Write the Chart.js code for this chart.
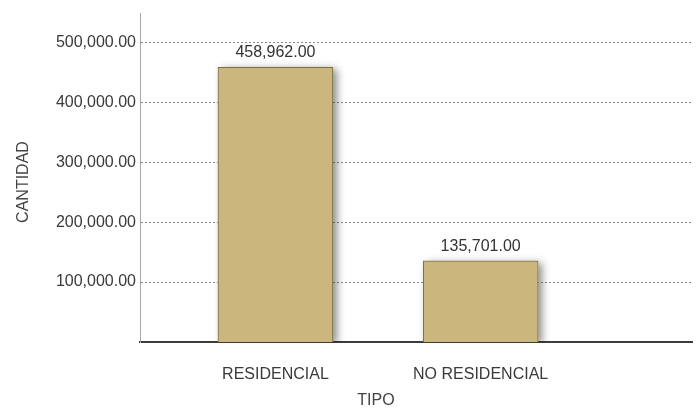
<!DOCTYPE html>
<html>
<head>
<meta charset="utf-8">
<script src="https://cdn.jsdelivr.net/npm/chart.js@4/dist/chart.umd.min.js"></script>
<style>
	html, body { margin: 0; padding: 0; background: #fff; }
	#wrap { width: 697px; height: 414px; position: relative; }
</style>
</head>
<body>
<div id="wrap"><canvas id="barChart"></canvas></div>
<script>
"use strict";

var categories = ["RESIDENCIAL", "NO RESIDENCIAL"];
var cantidad = [458962, 135701];
var yTicks = [100000, 200000, 300000, 400000, 500000];

function fmt(v) {
	return v.toLocaleString('en-US', { minimumFractionDigits: 2, maximumFractionDigits: 2 });
}

var FONT = "'Liberation Sans', Arial, sans-serif";
var BAR_COLOR = "#cbb77d";

// sombra de las barras (la barra de Chart.js recorta su propia sombra)
var shadowPlugin = {
	id: 'barShadow',
	beforeDatasetsDraw: function (chart) {
		var ctx = chart.ctx;
		var area = chart.chartArea;
		ctx.save();
		ctx.beginPath();
		ctx.rect(area.left, area.top, area.right - area.left, area.bottom - area.top);
		ctx.clip();
		ctx.shadowColor = 'rgba(0,0,0,0.45)';
		ctx.shadowBlur = 8;
		ctx.shadowOffsetX = 4;
		ctx.shadowOffsetY = 2;
		ctx.fillStyle = BAR_COLOR;
		chart.getDatasetMeta(0).data.forEach(function (bar) {
			var p = bar.getProps(['x', 'y', 'base', 'width'], true);
			ctx.fillRect(p.x - p.width / 2, p.y, p.width, p.base - p.y);
		});
		ctx.restore();
	}
};

// etiquetas de valor y titulos de ejes
var labelsPlugin = {
	id: 'valueLabels',
	afterDraw: function (chart) {
		var ctx = chart.ctx;
		ctx.save();
		ctx.font = "16px " + FONT;
		ctx.fillStyle = '#333';
		ctx.textAlign = 'center';
		ctx.textBaseline = 'bottom';
		chart.getDatasetMeta(0).data.forEach(function (bar, i) {
			ctx.fillText(fmt(cantidad[i]), bar.x, bar.y - 6);
		});

		ctx.fillStyle = '#444';
		ctx.textBaseline = 'middle';
		ctx.fillText('TIPO', 376, 401);

		ctx.translate(24, 182);
		ctx.rotate(-Math.PI / 2);
		ctx.fillText('CANTIDAD', 0, 0);
		ctx.restore();
	}
};

var ctx = document.getElementById("barChart");
var myChart = new Chart(ctx, {
	type: 'bar',
	data: {
		datasets: [{
			data: categories.map(function (c, i) { return { x: i, y: cantidad[i] }; }),
			backgroundColor: BAR_COLOR,
			borderColor: "#7d6f48",
			borderWidth: 1,
			borderSkipped: 'bottom',
			categoryPercentage: 1,
			barPercentage: 0.562
		}]
	},
	options: {
		responsive: true,
		maintainAspectRatio: false,
		animation: false,
		layout: { padding: { top: 13, right: 5, left: 0, bottom: 0 } },
		plugins: {
			legend: { display: false },
			tooltip: { enabled: false }
		},
		scales: {
			x: {
				type: 'linear',
				offset: false,
				min: -0.66,
				max: 2.03,
				grid: { display: false },
				border: { color: '#3c3c3c', width: 2 },
				afterBuildTicks: function (scale) {
					scale.ticks = categories.map(function (c, i) { return { value: i }; });
				},
				afterFit: function (scale) { scale.height = 72; },
				ticks: {
					padding: 15,
					color: '#3a3a3a',
					font: { family: FONT, size: 16 },
					autoSkip: false,
					maxRotation: 0,
					callback: function (v) { return categories[v] || ''; }
				}
			},
			y: {
				min: 0,
				max: 548000,
				afterBuildTicks: function (scale) {
					scale.ticks = yTicks.map(function (v) { return { value: v }; });
				},
				afterFit: function (scale) { scale.width = 140; },
				grid: { color: '#8a8a8a', lineWidth: 1, drawTicks: false },
				border: { color: '#a8a8a8', width: 1, dash: [2, 2] },
				ticks: {
					padding: 4,
					color: '#3a3a3a',
					font: { family: FONT, size: 16 },
					callback: function (v) { return fmt(v); }
				}
			}
		}
	},
	plugins: [shadowPlugin, labelsPlugin]
});
</script>
</body>
</html>
